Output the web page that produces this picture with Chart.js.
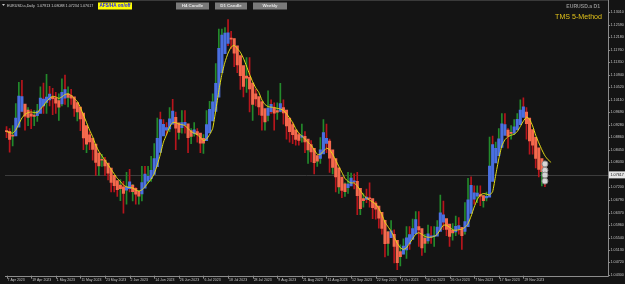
<!DOCTYPE html>
<html>
<head>
<meta charset="utf-8">
<script src="https://cdn.jsdelivr.net/npm/chart.js@4.4.1/dist/chart.umd.min.js"></script>
<style>
  html, body { margin: 0; padding: 0; background: #141414; overflow: hidden; }
  #chartBox { position: relative; width: 625px; height: 284px; }
</style>
</head>
<body>
<div id="chartBox"><canvas id="priceChart" width="625" height="284"></canvas></div>
<script>
// EURUSD.a daily, 7 Apr 2023 - 8 Dec 2023
const dateTicks = [
  "7 Apr 2023", "19 Apr 2023", "1 May 2023", "11 May 2023", "23 May 2023",
  "2 Jun 2023", "14 Jun 2023", "26 Jun 2023", "6 Jul 2023", "18 Jul 2023",
  "28 Jul 2023", "9 Aug 2023", "21 Aug 2023", "31 Aug 2023", "12 Sep 2023",
  "22 Sep 2023", "4 Oct 2023", "16 Oct 2023", "26 Oct 2023", "7 Nov 2023",
  "17 Nov 2023", "29 Nov 2023",
];
const barsPerDateTick = 8;

const priceTicks = [
  1.0430, 1.0472, 1.0513, 1.0554, 1.0596, 1.0637, 1.0679, 1.0720, 1.0762, 1.0803,
  1.0845, 1.0886, 1.0928, 1.0969, 1.1011, 1.1052, 1.1094, 1.1135, 1.1176, 1.1218,
  1.1259, 1.1301,
];

// real candles
const opens = [
  1.0910,1.0903,1.0861,1.0914,1.0991,1.1047,1.0993,1.0926,1.0972,1.0957,
  1.0964,1.0992,1.1048,1.0973,1.1042,1.1027,1.1020,1.0975,1.0996,1.1075,
  1.1014,1.1019,1.1004,1.0960,1.0981,1.0914,1.0850,1.0873,1.0862,1.0838,
  1.0770,1.0805,1.0813,1.0772,1.0751,1.0725,1.0723,1.0705,1.0735,1.0689,
  1.0762,1.0708,1.0712,1.0693,1.0697,1.0783,1.0749,1.0752,1.0793,1.0830,
  1.0945,1.0940,1.0924,1.0918,1.0980,1.0955,1.0895,1.0906,1.0958,1.0912,
  1.0866,1.0910,1.0910,1.0883,1.0853,1.0888,1.0967,1.0998,1.1008,1.1128,
  1.1227,1.1228,1.1237,1.1226,1.1200,1.1128,1.1124,1.1064,1.1055,1.1086,
  1.0977,1.1017,1.0998,1.0983,1.0937,1.0947,1.1006,1.0999,1.0955,1.0974,
  1.0981,1.0946,1.0906,1.0905,1.0876,1.0873,1.0871,1.0895,1.0847,1.0862,
  1.0808,1.0795,1.0817,1.0879,1.0922,1.0843,1.0773,1.0794,1.0722,1.0726,
  1.0697,1.0700,1.0752,1.0755,1.0732,1.0641,1.0659,1.0690,1.0677,1.0662,
  1.0659,1.0646,1.0591,1.0570,1.0502,1.0566,1.0573,1.0476,1.0469,1.0504,
  1.0549,1.0587,1.0564,1.0605,1.0619,1.0530,1.0511,1.0557,1.0575,1.0541,
  1.0583,1.0594,1.0670,1.0591,1.0566,1.0564,1.0565,1.0615,1.0575,1.0571,
  1.0620,1.0729,1.0720,1.0697,1.0710,1.0668,1.0685,1.0700,1.0882,1.0849,
  1.0851,1.0913,1.0939,1.0908,1.0888,1.0905,1.0940,1.0954,1.0996,1.0970,
  1.0889,1.0883,1.0837,1.0797,1.0763,1.0793,
];
const highs = [
  1.0922,1.0915,1.0925,1.0998,1.1068,1.1075,1.0995,1.0985,1.0978,1.0975,
  1.0995,1.1053,1.1066,1.1095,1.1055,1.1048,1.1035,1.1030,1.1080,1.1092,
  1.1053,1.1045,1.1010,1.1000,1.0985,1.0925,1.0895,1.0904,1.0875,1.0845,
  1.0830,1.0830,1.0820,1.0800,1.0765,1.0750,1.0735,1.0746,1.0740,1.0770,
  1.0780,1.0730,1.0720,1.0710,1.0790,1.0790,1.0790,1.0823,1.0865,1.0950,
  1.0970,1.0945,1.0935,1.0985,1.1012,1.0970,1.0925,1.0975,1.0975,1.0925,
  1.0915,1.0935,1.0915,1.0895,1.0895,1.0975,1.1005,1.1030,1.1130,1.1245,
  1.1245,1.1250,1.1276,1.1237,1.1212,1.1150,1.1126,1.1080,1.1150,1.1150,
  1.1045,1.1045,1.1005,1.1005,1.0955,1.1040,1.1010,1.1000,1.1000,1.1065,
  1.1010,1.0965,1.0940,1.0935,1.0905,1.0900,1.0930,1.0905,1.0865,1.0875,
  1.0840,1.0825,1.0885,1.0945,1.0930,1.0880,1.0810,1.0800,1.0740,1.0730,
  1.0735,1.0770,1.0768,1.0765,1.0770,1.0670,1.0700,1.0715,1.0735,1.0675,
  1.0673,1.0650,1.0610,1.0575,1.0575,1.0610,1.0580,1.0490,1.0530,1.0550,
  1.0590,1.0590,1.0615,1.0640,1.0640,1.0545,1.0565,1.0595,1.0590,1.0590,
  1.0610,1.0695,1.0675,1.0605,1.0575,1.0600,1.0625,1.0620,1.0580,1.0670,
  1.0750,1.0755,1.0725,1.0725,1.0725,1.0695,1.0705,1.0887,1.0890,1.0870,
  1.0915,1.0965,1.0965,1.0915,1.0925,1.0945,1.0965,1.1010,1.1017,1.0985,
  1.0895,1.0890,1.0845,1.0805,1.0805,1.0805,
];
const lows = [
  1.0885,1.0837,1.0858,1.0896,1.0985,1.0970,1.0910,1.0925,1.0915,1.0925,
  1.0939,1.0970,1.0965,1.0965,1.0990,1.0961,1.0965,1.0942,1.0990,1.0995,
  1.0987,1.0995,1.0955,1.0940,1.0908,1.0845,1.0835,1.0845,1.0810,1.0760,
  1.0760,1.0790,1.0760,1.0745,1.0705,1.0705,1.0690,1.0676,1.0635,1.0665,
  1.0705,1.0675,1.0665,1.0665,1.0675,1.0735,1.0735,1.0740,1.0775,1.0805,
  1.0925,1.0905,1.0895,1.0905,1.0945,1.0845,1.0880,1.0900,1.0900,1.0835,
  1.0865,1.0890,1.0870,1.0835,1.0833,1.0880,1.0945,1.0980,1.0995,1.1125,
  1.1200,1.1210,1.1190,1.1180,1.1120,1.1100,1.1045,1.1020,1.1035,1.0970,
  1.0942,1.0990,1.0960,1.0910,1.0910,1.0940,1.0965,1.0910,1.0945,1.0970,
  1.0930,1.0880,1.0870,1.0865,1.0860,1.0860,1.0870,1.0835,1.0800,1.0805,
  1.0765,1.0790,1.0800,1.0860,1.0835,1.0770,1.0765,1.0705,1.0700,1.0686,
  1.0690,1.0700,1.0730,1.0715,1.0630,1.0630,1.0655,1.0670,1.0655,1.0617,
  1.0615,1.0585,1.0565,1.0490,1.0495,1.0555,1.0470,1.0448,1.0460,1.0500,
  1.0485,1.0515,1.0550,1.0590,1.0525,1.0495,1.0505,1.0535,1.0535,1.0525,
  1.0570,1.0585,1.0580,1.0560,1.0525,1.0545,1.0560,1.0565,1.0515,1.0565,
  1.0615,1.0705,1.0665,1.0670,1.0660,1.0655,1.0675,1.0695,1.0828,1.0830,
  1.0845,1.0905,1.0900,1.0850,1.0880,1.0895,1.0925,1.0945,1.0965,1.0880,
  1.0830,1.0830,1.0785,1.0755,1.0725,1.0723,
];
const closes = [
  1.0903,1.0861,1.0914,1.0991,1.1047,1.0993,1.0926,1.0972,1.0957,1.0964,
  1.0992,1.1048,1.0973,1.1042,1.1027,1.1020,1.0975,1.0996,1.1075,1.1014,
  1.1019,1.1004,1.0960,1.0981,1.0914,1.0850,1.0873,1.0862,1.0838,1.0770,
  1.0805,1.0813,1.0772,1.0751,1.0725,1.0723,1.0705,1.0735,1.0689,1.0762,
  1.0708,1.0712,1.0693,1.0697,1.0783,1.0749,1.0752,1.0793,1.0830,1.0945,
  1.0940,1.0924,1.0918,1.0980,1.0955,1.0895,1.0906,1.0958,1.0912,1.0866,
  1.0910,1.0910,1.0883,1.0853,1.0888,1.0967,1.0998,1.1008,1.1128,1.1227,
  1.1228,1.1237,1.1226,1.1200,1.1128,1.1124,1.1064,1.1055,1.1086,1.0977,
  1.1017,1.0998,1.0983,1.0937,1.0947,1.1006,1.0999,1.0955,1.0974,1.0981,
  1.0946,1.0906,1.0905,1.0876,1.0873,1.0871,1.0895,1.0847,1.0862,1.0808,
  1.0795,1.0817,1.0879,1.0922,1.0843,1.0773,1.0794,1.0722,1.0726,1.0697,
  1.0700,1.0752,1.0755,1.0732,1.0641,1.0659,1.0690,1.0677,1.0662,1.0659,
  1.0646,1.0591,1.0570,1.0502,1.0566,1.0573,1.0476,1.0469,1.0504,1.0549,
  1.0587,1.0564,1.0605,1.0619,1.0530,1.0511,1.0557,1.0575,1.0541,1.0583,
  1.0594,1.0670,1.0591,1.0566,1.0564,1.0565,1.0615,1.0575,1.0571,1.0620,
  1.0729,1.0720,1.0697,1.0710,1.0668,1.0685,1.0700,1.0882,1.0849,1.0851,
  1.0913,1.0939,1.0908,1.0888,1.0905,1.0940,1.0954,1.0996,1.0970,1.0889,
  1.0883,1.0837,1.0797,1.0763,1.0793,1.0762,
];

// heiken ashi bodies as shown on the chart
const haOpen = [
  1.0907,1.0906,1.0893,1.0891,1.0920,1.0972,1.0996,1.0976,1.0964,1.0960,
  1.0958,1.0965,1.0990,1.1002,1.1010,1.1019,1.1017,1.1008,1.0997,1.1016,
  1.1030,1.1024,1.1020,1.1001,1.0986,1.0966,1.0925,1.0894,1.0883,1.0864,
  1.0834,1.0813,1.0811,1.0801,1.0784,1.0760,1.0743,1.0728,1.0722,1.0711,
  1.0716,1.0728,1.0717,1.0707,1.0699,1.0718,1.0741,1.0749,1.0763,1.0789,
  1.0836,1.0891,1.0910,1.0914,1.0930,1.0952,1.0934,1.0918,1.0926,1.0931,
  1.0908,1.0898,1.0905,1.0900,1.0883,1.0875,1.0901,1.0940,1.0972,1.1019,
  1.1100,1.1163,1.1197,1.1215,1.1213,1.1189,1.1157,1.1124,1.1089,1.1085,
  1.1066,1.1030,1.1021,1.1004,1.0981,1.0959,1.0971,1.0983,1.0975,1.0972,
  1.0985,1.0976,1.0950,1.0928,1.0911,1.0895,1.0886,1.0889,1.0880,1.0862,
  1.0850,1.0826,1.0816,1.0831,1.0866,1.0874,1.0845,1.0816,1.0785,1.0754,
  1.0732,1.0719,1.0725,1.0738,1.0740,1.0717,1.0683,1.0680,1.0684,1.0683,
  1.0668,1.0658,1.0638,1.0611,1.0573,1.0554,1.0565,1.0545,1.0508,1.0499,
  1.0513,1.0533,1.0548,1.0566,1.0590,1.0584,1.0552,1.0543,1.0555,1.0557,
  1.0559,1.0574,1.0605,1.0617,1.0599,1.0578,1.0573,1.0582,1.0588,1.0574,
  1.0590,1.0634,1.0681,1.0691,1.0696,1.0693,1.0685,1.0688,1.0740,1.0801,
  1.0825,1.0853,1.0892,1.0910,1.0900,1.0900,1.0911,1.0928,1.0952,1.0970,
  1.0950,1.0912,1.0886,1.0851,1.0816,1.0794,
];
const haClose = [
  1.0905,1.0879,1.0890,1.0950,1.1023,1.1021,1.0956,1.0952,1.0956,1.0955,
  1.0973,1.1016,1.1013,1.1019,1.1029,1.1014,1.0999,1.0986,1.1035,1.1044,
  1.1018,1.1016,1.0982,1.0970,1.0947,1.0884,1.0863,1.0871,1.0846,1.0803,
  1.0791,1.0810,1.0791,1.0767,1.0737,1.0726,1.0713,1.0716,1.0700,1.0722,
  1.0739,1.0706,1.0698,1.0691,1.0736,1.0764,1.0757,1.0777,1.0816,1.0883,
  1.0945,1.0929,1.0918,1.0947,1.0973,1.0916,1.0902,1.0935,1.0936,1.0885,
  1.0889,1.0911,1.0895,1.0867,1.0867,1.0928,1.0979,1.1004,1.1065,1.1181,
  1.1225,1.1231,1.1232,1.1211,1.1165,1.1126,1.1090,1.1055,1.1082,1.1046,
  1.0995,1.1013,1.0987,1.0959,1.0937,1.0983,1.0995,1.0966,1.0969,1.0998,
  1.0967,1.0924,1.0905,1.0895,1.0879,1.0876,1.0892,1.0871,1.0844,1.0838,
  1.0802,1.0807,1.0845,1.0902,1.0883,1.0817,1.0786,1.0755,1.0722,1.0710,
  1.0706,1.0731,1.0751,1.0742,1.0693,1.0650,1.0676,1.0688,1.0682,1.0653,
  1.0648,1.0618,1.0584,1.0534,1.0535,1.0576,1.0525,1.0471,1.0491,1.0526,
  1.0553,1.0564,1.0584,1.0614,1.0579,1.0520,1.0535,1.0566,1.0560,1.0560,
  1.0589,1.0636,1.0629,1.0581,1.0558,1.0569,1.0591,1.0594,1.0560,1.0607,
  1.0679,1.0727,1.0702,1.0701,1.0691,1.0676,1.0691,1.0791,1.0862,1.0850,
  1.0881,1.0931,1.0928,1.0890,1.0899,1.0921,1.0946,1.0976,1.0987,1.0931,
  1.0874,1.0860,1.0816,1.0780,1.0772,1.0771,
];

// yellow moving average (drawn shifted two bars to the right)
const maLine = [
  1.0905,1.0902,1.0900,1.0910,1.0930,1.0950,1.0962,1.0968,1.0970,1.0968,
  1.0968,1.0980,1.0990,1.1005,1.1015,1.1022,1.1020,1.1015,1.1020,1.1028,
  1.1030,1.1025,1.1015,1.1005,1.0985,1.0960,1.0935,1.0910,1.0888,1.0860,
  1.0840,1.0825,1.0810,1.0795,1.0780,1.0765,1.0750,1.0740,1.0728,1.0722,
  1.0720,1.0718,1.0712,1.0708,1.0712,1.0722,1.0735,1.0748,1.0765,1.0795,
  1.0830,1.0870,1.0895,1.0920,1.0935,1.0935,1.0930,1.0928,1.0925,1.0915,
  1.0905,1.0900,1.0895,1.0885,1.0875,1.0880,1.0895,1.0915,1.0975,1.1040,
  1.1095,1.1135,1.1165,1.1185,1.1191,1.1180,1.1168,1.1148,1.1122,1.1095,
  1.1070,1.1050,1.1035,1.1010,1.0995,1.0988,1.0986,1.0985,1.0982,1.0980,
  1.0975,1.0965,1.0950,1.0935,1.0915,1.0900,1.0890,1.0880,1.0870,1.0860,
  1.0845,1.0830,1.0830,1.0840,1.0850,1.0845,1.0830,1.0810,1.0790,1.0770,
  1.0750,1.0740,1.0735,1.0735,1.0725,1.0710,1.0695,1.0685,1.0678,1.0672,
  1.0665,1.0650,1.0630,1.0605,1.0590,1.0575,1.0555,1.0535,1.0520,1.0515,
  1.0520,1.0535,1.0550,1.0565,1.0570,1.0565,1.0558,1.0555,1.0555,1.0558,
  1.0565,1.0580,1.0595,1.0595,1.0588,1.0580,1.0578,1.0580,1.0582,1.0588,
  1.0600,1.0625,1.0655,1.0680,1.0695,1.0700,1.0698,1.0695,1.0706,1.0761,
  1.0815,1.0858,1.0878,1.0888,1.0893,1.0896,1.0905,1.0922,1.0940,1.0953,
  1.0946,1.0924,1.0893,1.0868,1.0845,1.0825,1.0812,1.0803,
];

// signal circles on the last bar
const markerBars = [175, 175, 175, 175];
const markerPrices = [1.0798, 1.0777, 1.0761, 1.0741];

const bidPrice = 1.07617;
const headerText = "EURUSD.a,Daily  1.07913 1.08088 1.07234 1.07617";

const emptySlots = 20;
const priceMin = 1.04277;
const priceMax = 1.13244;

const bodyUp = "#4a6fe0";
const bodyDown = "#f5694d";
const wickUp = "#238a2b";
const wickDown = "#b8151c";

const slotLabels = [];
for (let i = 0; i < closes.length + emptySlots; i++) slotLabels.push(String(i));

const wickData = highs.map((h, i) => [lows[i], h]);
const wickColors = closes.map((c, i) => (c >= opens[i] ? wickUp : wickDown));
const bodyData = haOpen.map((o, i) => [o, haClose[i]]);
const bodyColors = haOpen.map((o, i) => (haClose[i] >= o ? bodyUp : bodyDown));
const markerData = markerBars.map((b, i) => ({ x: String(b), y: markerPrices[i] }));

function drawText(c, txt, x, y, font, color, align) {
  c.font = font;
  c.fillStyle = color;
  c.textAlign = align || "left";
  c.textBaseline = "middle";
  c.fillText(txt, x, y);
}

const mtOverlay = {
  id: "mtOverlay",
  beforeDraw(chart) {
    const c = chart.ctx;
    c.save();
    c.fillStyle = "#141414";
    c.fillRect(0, 0, chart.width, chart.height);
    c.restore();
  },
  beforeDatasetsDraw(chart) {
    const c = chart.ctx;
    const area = chart.chartArea;
    const y = Math.round(chart.scales.y.getPixelForValue(bidPrice)) + 0.5;
    c.save();
    c.strokeStyle = "#3c3c3c";
    c.lineWidth = 1;
    c.beginPath();
    c.moveTo(area.left, y);
    c.lineTo(area.right, y);
    c.stroke();
    c.restore();
  },
  afterDraw(chart) {
    const c = chart.ctx;
    const area = chart.chartArea;
    const xs = chart.scales.x;
    const ys = chart.scales.y;
    c.save();

    // frame
    c.strokeStyle = "#8c8c8c";
    c.lineWidth = 1;
    c.beginPath();
    c.moveTo(area.left, Math.round(area.bottom) + 0.5);
    c.lineTo(Math.round(area.right) + 0.5, Math.round(area.bottom) + 0.5);
    c.lineTo(Math.round(area.right) + 0.5, 0);
    c.stroke();
    c.strokeStyle = "#3a3a3a";
    c.beginPath();
    c.moveTo(0, 0.5);
    c.lineTo(area.right, 0.5);
    c.stroke();

    // price scale
    const bidY = ys.getPixelForValue(bidPrice);
    priceTicks.forEach((v) => {
      const y = ys.getPixelForValue(v);
      c.strokeStyle = "#8c8c8c";
      c.beginPath();
      c.moveTo(area.right, Math.round(y) + 0.5);
      c.lineTo(area.right + 2, Math.round(y) + 0.5);
      c.stroke();
      if (Math.abs(y - bidY) < 6) return;
      drawText(c, v.toFixed(5), area.right + 2.5, y, "3.7px 'Liberation Sans'", "#c4c4c4");
    });
    c.fillStyle = "#e6e6e6";
    c.fillRect(area.right + 1, bidY - 3.5, chart.width - area.right - 1, 7);
    drawText(c, bidPrice.toFixed(5), area.right + 2.5, bidY, "3.7px 'Liberation Sans'", "#111111");

    // time scale
    dateTicks.forEach((label, i) => {
      const x = xs.getPixelForValue(i * barsPerDateTick);
      c.strokeStyle = "#8c8c8c";
      c.beginPath();
      c.moveTo(Math.round(x) + 0.5, area.bottom);
      c.lineTo(Math.round(x) + 0.5, area.bottom + 3);
      c.stroke();
      drawText(c, label, x + 1, area.bottom + 4, "3.5px 'Liberation Sans'", "#c4c4c4");
    });

    // header line
    c.fillStyle = "#c8c8c8";
    c.beginPath();
    c.moveTo(2, 4);
    c.lineTo(5, 4);
    c.lineTo(3.5, 6);
    c.closePath();
    c.fill();
    drawText(c, headerText, 7, 5.5, "3.7px 'Liberation Sans'", "#d0d0d0");

    // buttons
    c.fillStyle = "#ffff00";
    c.fillRect(98, 2.5, 34, 7);
    drawText(c, "AFS/HA on/off", 115, 6, "bold 4.6px 'Liberation Sans'", "#1a1aff", "center");
    [["H4 Candle", 176, 33], ["D1 Candle", 215, 32], ["Weekly", 253, 34]].forEach(([t, x, w]) => {
      c.fillStyle = "#7a7a7a";
      c.fillRect(x, 2.5, w, 7);
      drawText(c, t, x + w / 2, 6, "bold 4.4px 'Liberation Sans'", "#e4e4e4", "center");
    });

    drawText(c, "EURUSD.a D1", 600, 7, "bold 5.1px 'Liberation Sans'", "#8e8e8e", "right");
    drawText(c, "TMS 5-Method", 602, 17.5, "7.1px 'Liberation Sans'", "#e2c21a", "right");
    c.restore();
  },
};

const ctx = document.getElementById("priceChart").getContext("2d");
new Chart(ctx, {
  type: "bar",
  data: {
    labels: slotLabels,
    datasets: [
      {
        type: "line",
        data: markerData,
        showLine: false,
        pointRadius: 3,
        pointBackgroundColor: "#d6d6d6",
        pointBorderColor: "#8a8a8a",
        pointBorderWidth: 1,
        order: 0,
      },
      {
        type: "line",
        data: maLine,
        borderColor: "#e6e014",
        borderWidth: 1,
        pointRadius: 0,
        tension: 0.15,
        order: 1,
      },
      {
        data: bodyData,
        backgroundColor: bodyColors,
        barThickness: 2.4,
        minBarLength: 1,
        grouped: false,
        order: 2,
      },
      {
        data: wickData,
        backgroundColor: wickColors,
        barThickness: 1,
        grouped: false,
        order: 3,
      },
    ],
  },
  options: {
    responsive: false,
    animation: false,
    devicePixelRatio: 1,
    layout: { padding: { left: 0, right: 17, top: 0, bottom: 8.3 } },
    scales: {
      x: { display: false, offset: true },
      y: { display: false, min: priceMin, max: priceMax },
    },
    plugins: {
      legend: { display: false },
      tooltip: { enabled: false },
    },
  },
  plugins: [mtOverlay],
});
</script>
</body>
</html>
